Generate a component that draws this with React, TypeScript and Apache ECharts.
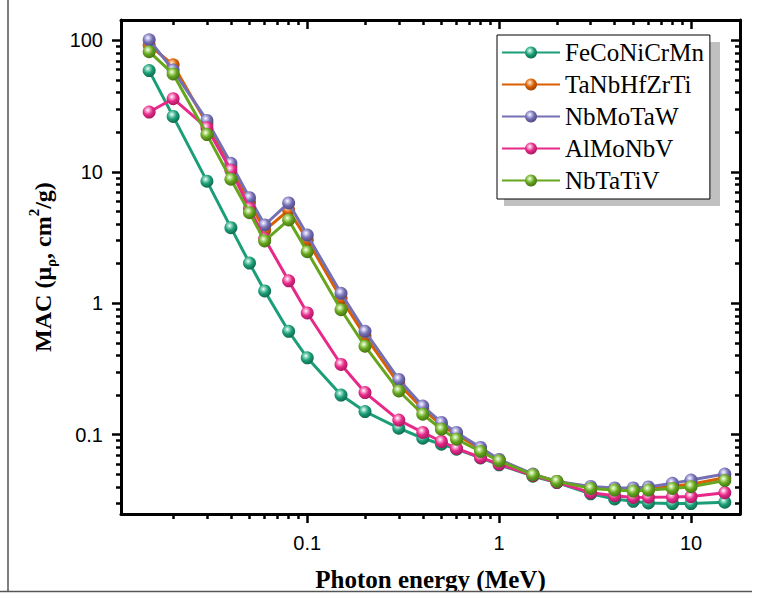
import React, { useEffect, useRef } from "react";
import * as echarts from "echarts";

const energy = [0.015, 0.02, 0.03, 0.04, 0.05, 0.06, 0.08, 0.1, 0.15, 0.2, 0.3, 0.4, 0.5, 0.6, 0.8, 1, 1.5, 2, 3, 4, 5, 6, 8, 10, 15];

const seriesNames = ["FeCoNiCrMn", "TaNbHfZrTi", "NbMoTaW", "AlMoNbV", "NbTaTiV"];

const feCoNiCrMn = [58.9, 26.4, 8.49, 3.76, 2.02, 1.24, 0.612, 0.384, 0.2, 0.15, 0.112, 0.0939, 0.0846, 0.0775, 0.0665, 0.059, 0.0483, 0.0432, 0.0355, 0.0324, 0.0311, 0.0302, 0.0299, 0.0299, 0.0306];
const taNbHfZrTi = [92.3, 65.2, 23.2, 10.96, 5.85, 3.59, 5.12, 3.03, 1.09, 0.564, 0.243, 0.157, 0.118, 0.0993, 0.0782, 0.0643, 0.0498, 0.0441, 0.0395, 0.0385, 0.038, 0.0385, 0.0405, 0.042, 0.047];
const nbMoTaW = [101, 59.5, 24.6, 11.6, 6.35, 3.94, 5.8, 3.3, 1.19, 0.612, 0.263, 0.165, 0.124, 0.104, 0.0799, 0.0647, 0.0501, 0.0441, 0.0404, 0.0393, 0.0393, 0.04, 0.0426, 0.0451, 0.0501];
const alMoNbV = [28.5, 36.0, 21.6, 10.3, 5.27, 3.1, 1.48, 0.843, 0.342, 0.209, 0.129, 0.104, 0.0887, 0.0785, 0.067, 0.0597, 0.0488, 0.0434, 0.0362, 0.0343, 0.0333, 0.0334, 0.0336, 0.0338, 0.0362];
const nbTaTiV = [82.1, 55.6, 19.2, 8.79, 4.89, 2.98, 4.3, 2.47, 0.893, 0.471, 0.215, 0.143, 0.11, 0.0923, 0.0745, 0.0632, 0.0495, 0.0441, 0.039, 0.0379, 0.0372, 0.0379, 0.039, 0.0402, 0.0447];

const seriesValues = [feCoNiCrMn, taNbHfZrTi, nbMoTaW, alMoNbV, nbTaTiV];
const seriesColors = ["#1b9e77", "#d95f02", "#7570b3", "#e7298a", "#66a61e"];
const darkColors = ["#0f6b50", "#9c4300", "#4f4a85", "#a81a62", "#467514"];
const lightColors = ["#8fd8c0", "#f7b07a", "#c3c0ea", "#f7a3cd", "#b9e08c"];

const xMajorTicks = [0.1, 1, 10];
const xMinorTicks = [0.02, 0.03, 0.04, 0.05, 0.06, 0.07, 0.08, 0.09, 0.2, 0.3, 0.4, 0.5, 0.6, 0.7, 0.8, 0.9, 2, 3, 4, 5, 6, 7, 8, 9];
const yMajorTicks = [0.1, 1, 10, 100];
const yMinorTicks = [0.03, 0.04, 0.05, 0.06, 0.07, 0.08, 0.09, 0.2, 0.3, 0.4, 0.5, 0.6, 0.7, 0.8, 0.9, 2, 3, 4, 5, 6, 7, 8, 9, 20, 30, 40, 50, 60, 70, 80, 90];

const X_MIN = 0.0107;
const X_MAX = 18;
const Y_MIN = 0.0249;
const Y_MAX = 143;

export default function App() {
  const ref = useRef<HTMLDivElement>(null);

  useEffect(() => {
    document.body.style.margin = "0";
    const chart = echarts.init(ref.current!, null, { renderer: "svg" });

    const axisLine = { show: true, onZero: false, lineStyle: { color: "#000", width: 3 } };
    const labelStyle = { fontFamily: "Liberation Sans", fontSize: 20, color: "#000" };
    const fmt = (v: number) => String(v);

    const makeX = (pos: string, major: boolean, inside: boolean, withLabel: boolean, extra: any = {}) => ({
      type: "log",
      gridIndex: 0,
      position: pos,
      min: X_MIN,
      max: X_MAX,
      axisLine: major ? axisLine : { show: false },
      axisTick: {
        show: true,
        inside,
        length: major ? 9 : 5,
        customValues: major ? xMajorTicks : xMinorTicks,
        lineStyle: { color: "#000", width: 2.5 },
      },
      axisLabel: withLabel
        ? { show: true, customValues: xMajorTicks, formatter: fmt, margin: 19, ...labelStyle }
        : { show: false },
      splitLine: { show: false },
      minorTick: { show: false },
      ...extra,
    });

    const makeY = (pos: string, major: boolean, inside: boolean, withLabel: boolean, extra: any = {}) => ({
      type: "log",
      gridIndex: 0,
      position: pos,
      min: Y_MIN,
      max: Y_MAX,
      axisLine: major ? axisLine : { show: false },
      axisTick: {
        show: true,
        inside,
        length: major ? 9 : 5,
        customValues: major ? yMajorTicks : yMinorTicks,
        lineStyle: { color: "#000", width: 2.5 },
      },
      axisLabel: withLabel
        ? { show: true, customValues: yMajorTicks, formatter: fmt, margin: 18, ...labelStyle }
        : { show: false },
      splitLine: { show: false },
      minorTick: { show: false },
      ...extra,
    });

    const sphere = (i: number) =>
      new echarts.graphic.RadialGradient(0.4, 0.35, 0.65, [
        { offset: 0, color: "#ffffff" },
        { offset: 0.22, color: lightColors[i] },
        { offset: 0.55, color: seriesColors[i] },
        { offset: 1, color: darkColors[i] },
      ]);

    const series = seriesNames.map((name, i) => ({
      name,
      type: "line",
      xAxisIndex: 0,
      yAxisIndex: 0,
      data: energy.map((e, k) => [e, seriesValues[i][k]]),
      symbol: "circle",
      symbolSize: 13,
      showSymbol: true,
      lineStyle: { color: seriesColors[i], width: 3 },
      itemStyle: { color: sphere(i), borderWidth: 0 },
      emphasis: { disabled: true },
      z: 2 + i,
    }));

    chart.setOption({
      animation: false,
      backgroundColor: "#fff",
      grid: { left: 121, top: 20, width: 619, height: 496, containLabel: false },
      legend: {
        orient: "vertical",
        left: 497,
        top: 35,
        padding: [5, 6, 6, 4],
        itemGap: 7,
        itemWidth: 58,
        itemHeight: 15,
        backgroundColor: "#fff",
        borderColor: "#000",
        borderWidth: 1,
        borderRadius: 0,
        textStyle: { fontFamily: "Liberation Serif", fontSize: 25, color: "#000", padding: [0, 0, 0, 0] },
        data: seriesNames,
        z: 10,
      },
      xAxis: [
        makeX("bottom", true, false, true, {
          name: "Photon energy (MeV)",
          nameLocation: "middle",
          nameGap: 53,
          nameTextStyle: { fontFamily: "Liberation Serif", fontWeight: "bold", fontSize: 25, color: "#000" },
        }),
        makeX("bottom", false, false, false),
        makeX("top", true, true, false),
        makeX("top", false, true, false),
      ],
      yAxis: [
        makeY("left", true, false, true, {
          name: "{t|MAC (μ}{s|ρ}{t|, cm}{p|2}{t|/g)}",
          nameLocation: "middle",
          nameGap: 58,
          nameTextStyle: {
            rich: {
              t: { fontFamily: "Liberation Serif", fontWeight: "bold", fontSize: 24, color: "#000", lineHeight: 32 },
              s: { fontFamily: "Liberation Serif", fontWeight: "bold", fontSize: 15, color: "#000", lineHeight: 14, verticalAlign: "bottom" },
              p: { fontFamily: "Liberation Serif", fontWeight: "bold", fontSize: 15, color: "#000", lineHeight: 14, verticalAlign: "top" },
            },
          },
        }),
        makeY("left", false, false, false),
        makeY("right", true, true, false),
        makeY("right", false, true, false),
      ],
      series,
      graphic: [
        { type: "rect", z: 1, shape: { x: 504, y: 42, width: 216, height: 164 }, style: { fill: "#c0c0c0" } },
        { type: "rect", z: 100, shape: { x: 0, y: 592, width: 758, height: 10 }, style: { fill: "#fff" } },
        { type: "line", z: 101, shape: { x1: 0, y1: 591.5, x2: 752, y2: 591.5 }, style: { stroke: "#555", lineWidth: 1.5 } },
        { type: "line", z: 101, shape: { x1: 8, y1: 0, x2: 8, y2: 591.5 }, style: { stroke: "#555", lineWidth: 1.5 } },
      ],
    });

    return () => chart.dispose();
  }, []);

  return <div ref={ref} style={{ position: "fixed", left: 0, top: 0, width: 758, height: 597 }} />;
}
